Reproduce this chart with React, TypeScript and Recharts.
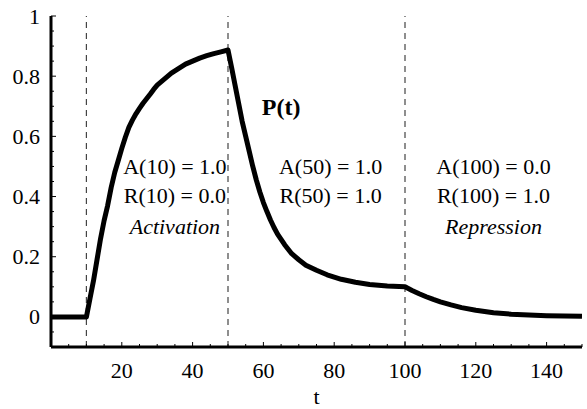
import React from "react";
import { Line, LineChart, ReferenceDot, ReferenceLine, XAxis, YAxis } from "recharts";

const tValues = [
  0, 10, 11, 12, 13, 14, 15, 16, 17, 18, 19, 20, 21, 22, 23, 24, 25, 26, 27, 28, 29, 30, 32, 34, 36, 38, 40, 42, 44, 46, 48, 50,
  51, 52, 53, 54, 55, 56, 57, 58, 59, 60, 61, 62, 63, 64, 66, 68, 70, 72, 75, 78, 82, 86, 90, 95, 100,
  102, 104, 106, 108, 110, 113, 116, 120, 125, 130, 135, 140, 145, 150,
];
const pValues = [
  0, 0, 0.06, 0.12, 0.19, 0.26, 0.32, 0.37, 0.43, 0.48, 0.52, 0.56, 0.597, 0.63, 0.654, 0.675, 0.693, 0.71, 0.725, 0.74, 0.756, 0.77, 0.79, 0.81, 0.825, 0.84, 0.85, 0.86, 0.868, 0.875, 0.881, 0.887,
  0.83, 0.77, 0.71, 0.65, 0.6, 0.55, 0.5, 0.455, 0.415, 0.38, 0.35, 0.322, 0.297, 0.275, 0.24, 0.21, 0.19, 0.172, 0.155, 0.14, 0.125, 0.115, 0.108, 0.103, 0.1,
  0.088, 0.077, 0.067, 0.058, 0.05, 0.04, 0.031, 0.022, 0.014, 0.009, 0.006, 0.004, 0.003, 0.002,
];

const switchTimes = [10, 50, 100];

const xTicks = [0, 5, 10, 15, 20, 25, 30, 35, 40, 45, 50, 55, 60, 65, 70, 75, 80, 85, 90, 95, 100, 105, 110, 115, 120, 125, 130, 135, 140, 145, 150];
const xLabels = [20, 40, 60, 80, 100, 120, 140];
const yTicks = [-0.05, 0, 0.05, 0.1, 0.15, 0.2, 0.25, 0.3, 0.35, 0.4, 0.45, 0.5, 0.55, 0.6, 0.65, 0.7, 0.75, 0.8, 0.85, 0.9, 0.95, 1];
const yLabels = [0, 0.2, 0.4, 0.6, 0.8, 1];

const FONT = "Liberation Serif, Times New Roman, Times, DejaVu Serif, serif";

const data = tValues.map((t, i) => ({ t, p: pValues[i] }));

const isMajor = (v: number, list: number[]) => list.some((m) => Math.abs(m - v) < 1e-9);

// bottom axis: inward tick + label for majors
const BottomTick = ({ x, y, payload }: any) => {
  const v = payload.value;
  const major = isMajor(v, xLabels);
  const axisY = y - 23;
  return (
    <g>
      <line x1={x} x2={x} y1={axisY} y2={axisY - (major ? 5 : 3)} stroke="#000" strokeWidth={1} />
      {major && (
        <text x={x} y={y} textAnchor="middle" dominantBaseline="central" style={{ fontFamily: FONT, fontSize: 22 }} fill="#000">
          {v}
        </text>
      )}
    </g>
  );
};

const TopTick = ({ x, y, payload }: any) => {
  const major = isMajor(payload.value, xLabels);
  return <line x1={x} x2={x} y1={y} y2={y + (major ? 5 : 3)} stroke="#000" strokeWidth={1} />;
};

const LeftTick = ({ x, y, payload }: any) => {
  const v = payload.value;
  const major = isMajor(v, yLabels);
  const axisX = x + 11;
  return (
    <g>
      <line x1={axisX} x2={axisX + (major ? 5 : 3)} y1={y} y2={y} stroke="#000" strokeWidth={1} />
      {major && (
        <text x={x} y={y} textAnchor="end" dominantBaseline="central" style={{ fontFamily: FONT, fontSize: 22 }} fill="#000">
          {String(Math.round(v * 10) / 10)}
        </text>
      )}
    </g>
  );
};

const RightTick = ({ x, y, payload }: any) => {
  const major = isMajor(payload.value, yLabels);
  return <line x1={x} x2={x - (major ? 5 : 3)} y1={y} y2={y} stroke="#000" strokeWidth={1} />;
};

const Note = ({ cx, cy, text, italic, bold, size }: any) => (
  <text
    x={cx}
    y={cy}
    textAnchor="middle"
    dominantBaseline="central"
    style={{
      fontFamily: FONT,
      fontSize: size || 22,
      fontStyle: italic ? "italic" : "normal",
      fontWeight: bold ? "bold" : "normal",
    }}
    fill="#000"
  >
    {text}
  </text>
);

const note = (t: number, p: number, text: string, italic = false, bold = false, size?: number) => (
  <ReferenceDot
    key={text}
    xAxisId="bottom"
    yAxisId="left"
    x={t}
    y={p}
    r={0}
    ifOverflow="visible"
    shape={(props: any) => <Note cx={props.cx} cy={props.cy} text={text} italic={italic} bold={bold} size={size} />}
  />
);

const AxisTitle = ({ viewBox }: any) => (
  <text
    x={viewBox.x + viewBox.width / 2}
    y={viewBox.y + 49}
    textAnchor="middle"
    dominantBaseline="central"
    style={{ fontFamily: FONT, fontSize: 22 }}
    fill="#000"
  >
    t
  </text>
);

export default function App() {
  return (
    <div style={{ position: "absolute", left: 0, top: 0, background: "#fff" }}>
      <LineChart width={587} height={409} data={data} margin={{ top: 16, right: 5, bottom: 0, left: 0 }}>
        <XAxis
          xAxisId="bottom"
          dataKey="t"
          type="number"
          domain={[0, 150]}
          ticks={xTicks}
          interval={0}
          height={62}
          tickSize={0}
          tickMargin={23}
          tickLine={false}
          axisLine={{ stroke: "#000", strokeWidth: 3 }}
          tick={<BottomTick />}
          label={<AxisTitle />}
        />
        <XAxis
          xAxisId="top"
          orientation="top"
          dataKey="t"
          type="number"
          domain={[0, 150]}
          ticks={xTicks}
          interval={0}
          height={0}
          tickSize={0}
          tickMargin={0}
          tickLine={false}
          axisLine={{ stroke: "#000", strokeWidth: 3 }}
          tick={<TopTick />}
        />
        <YAxis
          yAxisId="left"
          type="number"
          domain={[-0.1, 1]}
          ticks={yTicks}
          interval={0}
          width={51}
          tickSize={0}
          tickMargin={11}
          tickLine={false}
          axisLine={{ stroke: "#000", strokeWidth: 3 }}
          tick={<LeftTick />}
        />
        <YAxis
          yAxisId="right"
          orientation="right"
          type="number"
          domain={[-0.1, 1]}
          ticks={yTicks}
          interval={0}
          width={0}
          tickSize={0}
          tickMargin={0}
          tickLine={false}
          axisLine={{ stroke: "#000", strokeWidth: 3 }}
          tick={<RightTick />}
        />
        {switchTimes.map((s) => (
          <ReferenceLine key={s} x={s} xAxisId="bottom" yAxisId="left" stroke="#444" strokeWidth={1.2} strokeDasharray="6 5" />
        ))}
        <Line
          xAxisId="bottom"
          yAxisId="left"
          type="linear"
          dataKey="p"
          stroke="#000"
          strokeWidth={5}
          strokeLinejoin="round"
          dot={false}
          isAnimationActive={false}
        />
        {note(65, 0.697, "P(t)", false, true, 24)}
        {note(35, 0.5, "A(10) = 1.0")}
        {note(35, 0.403, "R(10) = 0.0")}
        {note(35, 0.3, "Activation", true)}
        {note(79, 0.5, "A(50) = 1.0")}
        {note(79, 0.403, "R(50) = 1.0")}
        {note(125, 0.5, "A(100) = 0.0")}
        {note(125, 0.403, "R(100) = 1.0")}
        {note(125, 0.3, "Repression", true)}
      </LineChart>
    </div>
  );
}
